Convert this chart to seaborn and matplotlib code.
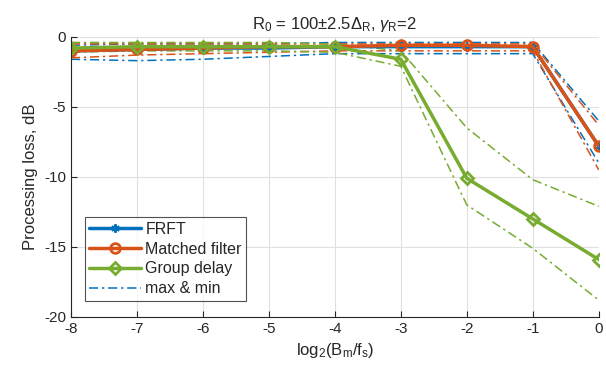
import numpy as np
import pandas as pd
import matplotlib
matplotlib.use("Agg")
import matplotlib.pyplot as plt
import seaborn as sns

# x axis: log2(Bm/fs)
log2_ratio = [-8, -7, -6, -5, -4, -3, -2, -1, 0]

# mean processing loss (dB)
frft = [-1.0, -0.9, -0.8, -0.8, -0.7, -0.7, -0.7, -0.7, -7.8]
matched = [-1.0, -0.9, -0.8, -0.7, -0.7, -0.6, -0.6, -0.7, -7.8]
group_delay = [-0.8, -0.7, -0.7, -0.7, -0.7, -1.6, -10.1, -13.0, -15.9]

# max & min envelopes
frft_max = [-0.6, -0.5, -0.5, -0.5, -0.4, -0.4, -0.4, -0.4, -6.0]
frft_min = [-1.6, -1.7, -1.6, -1.4, -1.2, -1.2, -1.2, -1.2, -9.0]
matched_max = [-0.5, -0.5, -0.5, -0.5, -0.5, -0.5, -0.5, -0.5, -6.3]
matched_min = [-1.5, -1.3, -1.2, -1.1, -1.0, -1.0, -1.0, -1.0, -9.5]
gd_max = [-0.4, -0.4, -0.4, -0.4, -0.5, -1.0, -6.5, -10.2, -12.1]
gd_min = [-1.1, -1.0, -1.0, -1.0, -1.1, -2.1, -12.0, -15.1, -18.8]

blue = "#0072BD"
orange = "#D95319"
green = "#77AC30"
dashdot = (0, (6, 2.5, 1.5, 2.5))


def main():
    sns.set_style("white")
    plt.rcParams["font.family"] = ["Liberation Sans", "DejaVu Sans"]
    plt.rcParams["mathtext.fontset"] = "custom"
    plt.rcParams["mathtext.rm"] = "Liberation Sans"
    plt.rcParams["mathtext.it"] = "Liberation Sans:italic"
    plt.rcParams["axes.unicode_minus"] = False

    fig = plt.figure(figsize=(6.06, 3.8), dpi=100)
    ax = fig.add_axes([0.117, 0.166, 0.871, 0.737])

    # envelopes first, thin dash-dot
    for vals, col in [(frft_max, blue), (frft_min, blue),
                      (matched_max, orange), (matched_min, orange),
                      (gd_max, green), (gd_min, green)]:
        sns.lineplot(x=log2_ratio, y=vals, ax=ax, color=col, lw=1.1,
                     linestyle=dashdot, legend=False)

    sns.lineplot(x=log2_ratio, y=frft, ax=ax, color=blue, lw=2.5,
                 marker=(6, 2, 0), markersize=6, markeredgecolor=blue,
                 markeredgewidth=1.5, label="FRFT")
    sns.lineplot(x=log2_ratio, y=matched, ax=ax, color=orange, lw=2.5,
                 marker="o", markersize=7, markeredgecolor=orange,
                 markeredgewidth=2, markerfacecolor="none",
                 label="Matched filter")
    sns.lineplot(x=log2_ratio, y=group_delay, ax=ax, color=green, lw=2.5,
                 marker="D", markersize=6, markeredgecolor=green,
                 markeredgewidth=2, markerfacecolor="none",
                 label="Group delay")
    ax.plot([], [], color=blue, lw=1.1, linestyle=dashdot, label="max & min")

    ax.set_xlim(-8, 0)
    ax.set_ylim(-20, 0)
    ax.set_xticks(log2_ratio)
    ax.set_yticks([-20, -15, -10, -5, 0])
    ax.grid(True, color="#e0e0e0", lw=0.8)
    for s in ["top", "right"]:
        ax.spines[s].set_visible(False)
    for s in ["left", "bottom"]:
        ax.spines[s].set_color("#262626")
        ax.spines[s].set_linewidth(0.8)
    ax.tick_params(direction="in", length=4, width=0.8, labelsize=11,
                   colors="#262626", left=True, bottom=True)

    ax.set_xlabel(r"log$_2$(B$_\mathrm{m}$/f$_\mathrm{s}$)", fontsize=12,
                  color="#262626")
    ax.set_ylabel("Processing loss, dB", fontsize=12, color="#262626")
    ax.set_title(r"R$_0$ = 100$\pm$2.5$\Delta_\mathrm{R}$, $\gamma_\mathrm{R}$=2",
                 fontsize=12, color="#262626")

    leg = ax.legend(loc="lower left", bbox_to_anchor=(0.026, 0.057),
                    fontsize=11.5, frameon=True, fancybox=False,
                    handlelength=3.2, borderpad=0.3, labelspacing=0.3,
                    handletextpad=0.3, borderaxespad=0)
    leg.get_frame().set_edgecolor("#262626")
    leg.get_frame().set_linewidth(0.8)

    fig.savefig("out.png", dpi=100)


if __name__ == "__main__":
    main()
